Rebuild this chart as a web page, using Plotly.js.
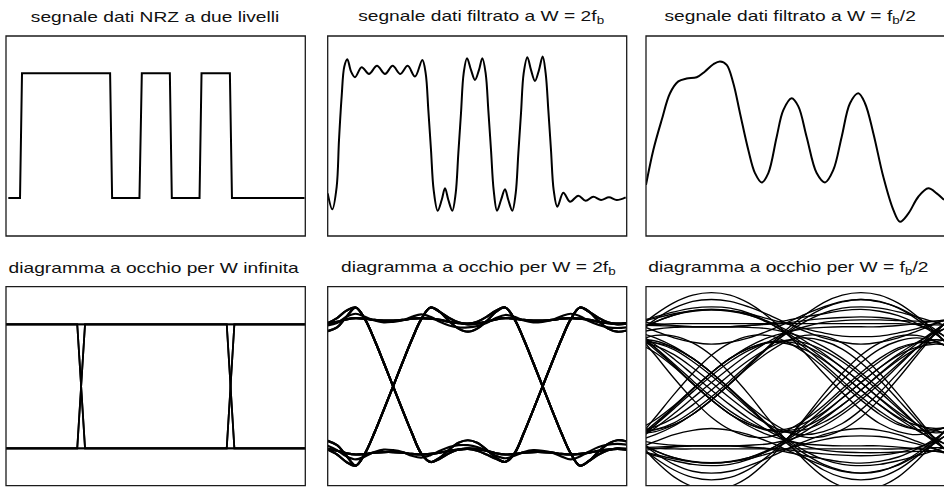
<!DOCTYPE html>
<html>
<head>
<meta charset="utf-8">
<script src="https://cdn.plot.ly/plotly-3.0.1.min.js"></script>
<style>
  html, body { margin: 0; padding: 0; background: #fff; }
  #chart { width: 944px; height: 488px; }
</style>
</head>
<body>
<div id="chart"></div>
<script>
// ---------------- data (time in bit periods, amplitude in NRZ levels) ----------------

// two-level NRZ data signal
const nrzTime  = [0.077, 0.468, 0.535, 3.478, 3.545, 4.459, 4.538, 5.474, 5.54, 6.466, 6.533, 7.48, 7.55, 9.975];
const nrzLevel = [-1, -1, 1, 1, -1, -1, 1, 1, -1, -1, 1, 1, -1, -1];

// data signal filtered at W = 2 fb
const wideTime  = [0.00, 0.155, 0.30, 0.378, 0.467, 0.556, 0.657, 0.779, 0.913, 1.136, 1.381, 1.649, 1.916, 2.173, 2.429, 2.675, 2.920, 3.165, 3.277, 3.366, 3.455, 3.544, 3.678, 3.812, 3.923, 4.035, 4.168, 4.280, 4.369, 4.458, 4.547, 4.659, 4.793, 4.926, 5.060, 5.172, 5.283, 5.372, 5.462, 5.551, 5.662, 5.796, 5.930, 6.041, 6.175, 6.287, 6.376, 6.465, 6.554, 6.677, 6.799, 6.933, 7.067, 7.190, 7.290, 7.379, 7.468, 7.558, 7.680, 7.881, 8.104, 8.382, 8.628, 8.884, 9.141, 9.408, 9.665, 9.966];
const wideLevel = [-0.925, -1.18, -0.82, -0.07, 0.63, 1.11, 1.226, 1.03, 0.937, 1.097, 0.99, 1.119, 0.99, 1.119, 0.99, 1.119, 0.947, 1.215, 1.00, 0.41, -0.23, -0.872, -1.203, -1.032, -0.845, -1.032, -1.203, -0.925, -0.283, 0.359, 1.00, 1.242, 1.054, 0.894, 1.054, 1.242, 1.00, 0.41, -0.23, -0.872, -1.203, -1.032, -0.861, -1.032, -1.203, -0.925, -0.283, 0.359, 1.00, 1.258, 1.054, 0.878, 1.054, 1.268, 1.00, 0.41, -0.23, -0.872, -1.139, -0.915, -1.059, -0.963, -1.043, -0.979, -1.032, -0.989, -1.032, -0.989];

// data signal filtered at W = fb/2
const narrowTime  = [0, 0.245, 0.524, 0.803, 1.081, 1.36, 1.695, 1.973, 2.252, 2.475, 2.698, 2.921, 3.144, 3.422, 3.645, 3.869, 4.091, 4.37, 4.593, 4.872, 5.095, 5.373, 5.708, 5.987, 6.265, 6.544, 6.823, 7.101, 7.324, 7.603, 7.937, 8.272, 8.495, 8.773, 9.108, 9.443, 9.721, 9.967];
const narrowLevel = [-0.79, -0.23, 0.25, 0.68, 0.87, 0.915, 0.937, 1.03, 1.145, 1.19, 1.135, 0.84, 0.36, -0.23, -0.60, -0.75, -0.60, -0.02, 0.41, 0.60, 0.47, -0.02, -0.60, -0.75, -0.55, -0.02, 0.52, 0.68, 0.52, 0.04, -0.66, -1.19, -1.38, -1.25, -0.98, -0.845, -0.925, -1.03];

// eye diagram, unlimited bandwidth: three-bit patterns over a two-bit window
const eyeInfTime = [0, 0.476, 0.528, 1.475, 1.526, 2];
const eyeInfPatterns = [
  [1, 1, 1], [1, 1, -1], [1, -1, 1], [1, -1, -1],
  [-1, 1, 1], [-1, 1, -1], [-1, -1, 1], [-1, -1, -1]
];

// eye diagram, W = 2 fb
const eyeWideTime = [0, 0.0625, 0.125, 0.1875, 0.25, 0.3125, 0.375, 0.4375, 0.5, 0.5625, 0.625, 0.6875, 0.75, 0.8125, 0.875, 0.9375, 1, 1.0625, 1.125, 1.1875, 1.25, 1.3125, 1.375, 1.4375, 1.5, 1.5625, 1.625, 1.6875, 1.75, 1.8125, 1.875, 1.9375, 2];
const eyeWideTraces = [
  [1.01,1.04,1.08,1.10,1.09,1.07,1.06,1.06,1.07,1.09,1.10,1.09,1.07,1.04,1.02,1.01,1.02,1.04,1.08,1.10,1.09,1.07,1.06,1.06,1.07,1.09,1.10,1.09,1.07,1.04,1.02,1.01,1.02],
  [-1.01,-1.04,-1.08,-1.10,-1.09,-1.07,-1.06,-1.06,-1.07,-1.09,-1.10,-1.09,-1.07,-1.04,-1.02,-1.01,-1.02,-1.04,-1.08,-1.10,-1.09,-1.07,-1.06,-1.06,-1.07,-1.09,-1.10,-1.09,-1.07,-1.04,-1.02,-1.01,-1.02],
  [1.02,1.10,1.22,1.27,1.08,0.75,0.38,0.00,-0.38,-0.75,-1.08,-1.22,-1.17,-1.08,-1.02,-1.00,-1.01,-1.04,-1.08,-1.10,-1.09,-1.07,-1.06,-1.06,-1.07,-1.09,-1.10,-1.09,-1.07,-1.04,-1.02,-1.01,-1.02],
  [-1.02,-1.10,-1.22,-1.28,-1.08,-0.75,-0.38,0.00,0.38,0.75,1.08,1.27,1.20,1.10,1.03,1.00,1.01,1.04,1.08,1.10,1.09,1.07,1.06,1.06,1.07,1.09,1.10,1.09,1.07,1.04,1.02,1.01,1.02],
  [1.01,1.04,1.08,1.10,1.09,1.07,1.06,1.06,1.07,1.09,1.10,1.09,1.07,1.04,1.02,1.01,1.04,1.12,1.22,1.27,1.08,0.75,0.38,0.00,-0.38,-0.75,-1.08,-1.28,-1.20,-1.10,-1.03,-1.00,-1.01],
  [-1.01,-1.04,-1.08,-1.10,-1.09,-1.07,-1.06,-1.06,-1.07,-1.09,-1.10,-1.09,-1.07,-1.04,-1.02,-1.01,-1.04,-1.10,-1.17,-1.22,-1.08,-0.75,-0.38,0.00,0.38,0.75,1.08,1.27,1.20,1.10,1.03,1.00,1.01],
  [-1.02,-1.10,-1.22,-1.28,-1.08,-0.75,-0.38,0.00,0.38,0.75,1.08,1.27,1.20,1.05,0.93,0.88,0.93,1.05,1.20,1.27,1.08,0.75,0.38,0.00,-0.38,-0.75,-1.08,-1.28,-1.20,-1.10,-1.03,-1.00,-1.01],
  [1.02,1.10,1.22,1.27,1.08,0.75,0.38,0.00,-0.38,-0.75,-1.08,-1.22,-1.15,-1.02,-0.91,-0.87,-0.91,-1.02,-1.15,-1.22,-1.08,-0.75,-0.38,0.00,0.38,0.75,1.08,1.27,1.20,1.10,1.03,1.00,1.01],
  [0.89,0.95,1.12,1.27,1.08,0.75,0.38,0.00,-0.38,-0.75,-1.08,-1.22,-1.17,-1.08,-1.02,-1.00,-1.01,-1.04,-1.08,-1.10,-1.09,-1.07,-1.06,-1.06,-1.07,-1.09,-1.10,-1.09,-1.07,-1.04,-1.02,-1.01,-1.02],
  [-0.88,-0.95,-1.12,-1.28,-1.08,-0.75,-0.38,0.00,0.38,0.75,1.08,1.27,1.20,1.10,1.03,1.00,1.01,1.04,1.08,1.10,1.09,1.07,1.06,1.06,1.07,1.09,1.10,1.09,1.07,1.04,1.02,1.01,1.02],
  [0.89,0.95,1.12,1.27,1.08,0.75,0.38,0.00,-0.38,-0.75,-1.08,-1.22,-1.15,-1.02,-0.91,-0.87,-0.91,-1.02,-1.15,-1.22,-1.08,-0.75,-0.38,0.00,0.38,0.75,1.08,1.27,1.20,1.05,0.93,0.88,0.90],
  [-0.88,-0.95,-1.12,-1.28,-1.08,-0.75,-0.38,0.00,0.38,0.75,1.08,1.27,1.20,1.05,0.93,0.88,0.93,1.05,1.20,1.27,1.08,0.75,0.38,0.00,-0.38,-0.75,-1.08,-1.28,-1.20,-1.05,-0.93,-0.87,-0.89],
  [-1.01,-1.04,-1.08,-1.10,-1.09,-1.07,-1.06,-1.06,-1.07,-1.09,-1.10,-1.09,-1.07,-1.04,-1.02,-1.01,-1.04,-1.10,-1.17,-1.22,-1.08,-0.75,-0.38,0.00,0.38,0.75,1.08,1.27,1.20,1.05,0.93,0.88,0.90],
  [1.01,1.04,1.08,1.10,1.09,1.07,1.06,1.06,1.07,1.09,1.10,1.09,1.07,1.04,1.02,1.01,1.04,1.12,1.22,1.27,1.08,0.75,0.38,0.00,-0.38,-0.75,-1.08,-1.28,-1.20,-1.05,-0.93,-0.87,-0.89],
  [0.98,1.02,1.12,1.17,1.12,1.06,1.03,1.04,1.06,1.12,1.16,1.12,1.04,0.98,0.95,0.95,0.97,1.02,1.10,1.15,1.12,1.06,1.03,1.04,1.07,1.13,1.17,1.13,1.05,0.99,0.95,0.94,0.95],
  [-0.96,-1.03,-1.13,-1.18,-1.13,-1.06,-1.02,-1.03,-1.06,-1.12,-1.15,-1.11,-1.04,-0.98,-0.95,-0.95,-0.98,-1.04,-1.12,-1.16,-1.12,-1.06,-1.03,-1.04,-1.07,-1.13,-1.18,-1.13,-1.05,-0.98,-0.94,-0.93,-0.94]
];

// eye diagram, W = fb/2
const eyeNarrowTime = [-0.0625, 0.0625, 0.1875, 0.3125, 0.4375, 0.5625, 0.6875, 0.8125, 0.9375, 1.0625, 1.1875, 1.3125, 1.4375, 1.5625, 1.6875, 1.8125, 1.9375, 2.0625];
const eyeNarrowTraces = [
  [0.99,1.00,1.01,1.01,1.01,1.01,1.01,1.01,1.01,1.01,1.01,1.01,1.01,1.01,1.01,1.00,0.99,0.99],
  [0.86,0.92,0.95,0.96,0.96,0.96,0.98,1.01,1.06,1.12,1.17,1.22,1.24,1.21,1.14,1.01,0.84,0.61],
  [0.99,0.98,0.97,0.96,0.96,0.96,0.98,1.00,1.02,1.06,1.09,1.11,1.12,1.11,1.07,0.99,0.88,0.72],
  [0.88,1.04,1.15,1.22,1.24,1.22,1.17,1.09,1.01,0.93,0.86,0.81,0.80,0.81,0.86,0.93,1.02,1.11],
  [1.03,1.12,1.20,1.26,1.28,1.26,1.18,1.04,0.85,0.62,0.36,0.09,-0.17,-0.40,-0.59,-0.70,-0.75,-0.72],
  [0.90,1.04,1.15,1.21,1.23,1.21,1.15,1.05,0.91,0.73,0.53,0.30,0.06,-0.20,-0.45,-0.69,-0.91,-1.10],
  [1.02,1.10,1.17,1.22,1.24,1.22,1.15,1.03,0.87,0.67,0.44,0.19,-0.06,-0.30,-0.52,-0.71,-0.87,-0.98],
  [0.92,1.16,1.35,1.47,1.51,1.47,1.34,1.13,0.86,0.54,0.21,-0.10,-0.38,-0.60,-0.73,-0.78,-0.72,-0.59],
  [0.84,0.62,0.36,0.09,-0.17,-0.40,-0.58,-0.70,-0.74,-0.70,-0.58,-0.40,-0.17,0.09,0.36,0.62,0.84,1.02],
  [0.71,0.54,0.31,0.04,-0.22,-0.45,-0.61,-0.70,-0.69,-0.59,-0.42,-0.19,0.06,0.30,0.50,0.63,0.68,0.65],
  [0.84,0.59,0.33,0.05,-0.22,-0.45,-0.61,-0.71,-0.72,-0.65,-0.50,-0.30,-0.06,0.19,0.42,0.61,0.72,0.76],
  [0.73,0.65,0.51,0.30,0.06,-0.19,-0.42,-0.61,-0.74,-0.78,-0.73,-0.60,-0.38,-0.10,0.22,0.55,0.87,1.15],
  [-0.75,-0.70,-0.59,-0.40,-0.17,0.09,0.36,0.62,0.85,1.04,1.18,1.26,1.28,1.26,1.20,1.12,1.03,0.94],
  [-0.88,-0.78,-0.64,-0.45,-0.22,0.04,0.33,0.63,0.91,1.15,1.35,1.47,1.51,1.47,1.34,1.13,0.87,0.56],
  [-0.76,-0.73,-0.62,-0.45,-0.22,0.05,0.33,0.61,0.87,1.09,1.26,1.36,1.40,1.36,1.27,1.11,0.91,0.68],
  [-0.86,-0.67,-0.44,-0.19,0.06,0.30,0.52,0.71,0.86,0.96,1.03,1.06,1.07,1.07,1.06,1.05,1.05,1.07],
  [1.01,0.89,0.78,0.71,0.68,0.71,0.78,0.89,1.02,1.16,1.28,1.37,1.40,1.37,1.26,1.08,0.85,0.57],
  [0.85,1.08,1.26,1.37,1.40,1.37,1.28,1.16,1.02,0.89,0.78,0.71,0.68,0.71,0.78,0.89,1.01,1.14],
  [1.05,1.01,0.98,0.96,0.96,0.96,0.95,0.93,0.87,0.78,0.64,0.45,0.22,-0.04,-0.33,-0.62,-0.90,-1.13],
  [0.86,0.50,0.13,-0.21,-0.50,-0.70,-0.81,-0.82,-0.72,-0.54,-0.31,-0.04,0.22,0.45,0.62,0.70,0.70,0.61],
  [0.70,0.70,0.62,0.45,0.22,-0.04,-0.31,-0.54,-0.72,-0.82,-0.81,-0.70,-0.50,-0.21,0.13,0.50,0.86,1.18],
  [-0.90,-0.62,-0.33,-0.04,0.22,0.45,0.64,0.78,0.87,0.93,0.95,0.96,0.96,0.96,0.98,1.01,1.05,1.10],
  [-0.99,-1.00,-1.01,-1.01,-1.01,-1.01,-1.01,-1.01,-1.01,-1.01,-1.01,-1.01,-1.01,-1.01,-1.01,-1.00,-0.99,-0.99],
  [-0.86,-0.92,-0.95,-0.96,-0.96,-0.96,-0.98,-1.01,-1.06,-1.12,-1.17,-1.22,-1.24,-1.21,-1.14,-1.01,-0.84,-0.61],
  [-0.99,-0.98,-0.97,-0.96,-0.96,-0.96,-0.98,-1.00,-1.02,-1.06,-1.09,-1.11,-1.12,-1.11,-1.07,-0.99,-0.88,-0.72],
  [-0.88,-1.04,-1.15,-1.22,-1.24,-1.22,-1.17,-1.09,-1.01,-0.93,-0.86,-0.81,-0.80,-0.81,-0.86,-0.93,-1.02,-1.11],
  [-1.03,-1.12,-1.20,-1.26,-1.28,-1.26,-1.18,-1.04,-0.85,-0.62,-0.36,-0.09,0.17,0.40,0.59,0.70,0.75,0.72],
  [-0.90,-1.04,-1.15,-1.21,-1.23,-1.21,-1.15,-1.05,-0.91,-0.73,-0.53,-0.30,-0.06,0.20,0.45,0.69,0.91,1.10],
  [-1.02,-1.10,-1.17,-1.22,-1.24,-1.22,-1.15,-1.03,-0.87,-0.67,-0.44,-0.19,0.06,0.30,0.52,0.71,0.87,0.98],
  [-0.92,-1.16,-1.35,-1.47,-1.51,-1.47,-1.34,-1.13,-0.86,-0.54,-0.21,0.10,0.38,0.60,0.73,0.78,0.72,0.59],
  [-0.84,-0.62,-0.36,-0.09,0.17,0.40,0.58,0.70,0.74,0.70,0.58,0.40,0.17,-0.09,-0.36,-0.62,-0.84,-1.02],
  [-0.71,-0.54,-0.31,-0.04,0.22,0.45,0.61,0.70,0.69,0.59,0.42,0.19,-0.06,-0.30,-0.50,-0.63,-0.68,-0.65],
  [-0.84,-0.59,-0.33,-0.05,0.22,0.45,0.61,0.71,0.72,0.65,0.50,0.30,0.06,-0.19,-0.42,-0.61,-0.72,-0.76],
  [-0.73,-0.65,-0.51,-0.30,-0.06,0.19,0.42,0.61,0.74,0.78,0.73,0.60,0.38,0.10,-0.22,-0.55,-0.87,-1.15],
  [0.75,0.70,0.59,0.40,0.17,-0.09,-0.36,-0.62,-0.85,-1.04,-1.18,-1.26,-1.28,-1.26,-1.20,-1.12,-1.03,-0.94],
  [0.88,0.78,0.64,0.45,0.22,-0.04,-0.33,-0.63,-0.91,-1.15,-1.35,-1.47,-1.51,-1.47,-1.34,-1.13,-0.87,-0.56],
  [0.76,0.73,0.62,0.45,0.22,-0.05,-0.33,-0.61,-0.87,-1.09,-1.26,-1.36,-1.40,-1.36,-1.27,-1.11,-0.91,-0.68],
  [0.86,0.67,0.44,0.19,-0.06,-0.30,-0.52,-0.71,-0.86,-0.96,-1.03,-1.06,-1.07,-1.07,-1.06,-1.05,-1.05,-1.07],
  [-1.01,-0.89,-0.78,-0.71,-0.68,-0.71,-0.78,-0.89,-1.02,-1.16,-1.28,-1.37,-1.40,-1.37,-1.26,-1.08,-0.85,-0.57],
  [-0.85,-1.08,-1.26,-1.37,-1.40,-1.37,-1.28,-1.16,-1.02,-0.89,-0.78,-0.71,-0.68,-0.71,-0.78,-0.89,-1.01,-1.14],
  [-1.05,-1.01,-0.98,-0.96,-0.96,-0.96,-0.95,-0.93,-0.87,-0.78,-0.64,-0.45,-0.22,0.04,0.33,0.62,0.90,1.13],
  [-0.88,-1.20,-1.46,-1.62,-1.68,-1.62,-1.46,-1.20,-0.87,-0.51,-0.13,0.21,0.50,0.70,0.81,0.82,0.73,0.56],
  [-0.86,-0.50,-0.13,0.21,0.50,0.70,0.81,0.82,0.72,0.54,0.31,0.04,-0.22,-0.45,-0.62,-0.70,-0.70,-0.61],
  [-0.70,-0.70,-0.62,-0.45,-0.22,0.04,0.31,0.54,0.72,0.82,0.81,0.70,0.50,0.21,-0.13,-0.50,-0.86,-1.18],
  [0.73,0.82,0.81,0.70,0.50,0.21,-0.13,-0.51,-0.87,-1.20,-1.46,-1.62,-1.68,-1.62,-1.46,-1.20,-0.88,-0.53],
  [0.90,0.62,0.33,0.04,-0.22,-0.45,-0.64,-0.78,-0.87,-0.93,-0.95,-0.96,-0.96,-0.96,-0.98,-1.01,-1.05,-1.10]
];

// panel titles
const panelTitles = [
  'segnale dati NRZ a due livelli',
  'segnale dati filtrato a W = 2f<sub>b</sub>',
  'segnale dati filtrato a W = f<sub>b</sub>/2',
  'diagramma a occhio per W infinita',
  'diagramma a occhio per W = 2f<sub>b</sub>',
  'diagramma a occhio per W = f<sub>b</sub>/2'
];

// ---------------- page geometry (pixels) ----------------
const PAGE_W = 944, PAGE_H = 488;
const TITLE_SIZE = 15, SUB_SIZE = 10.5, SUB_DROP = 3, TITLE_STRETCH = 1.28;
const frames = [
  { left: 6,     right: 305.3, top: 36,    bottom: 236,   xr: [0, 10],    yr: [-1.609, 1.598] },
  { left: 327.7, right: 626.7, top: 36,    bottom: 236,   xr: [0, 10],    yr: [-1.609, 1.598] },
  { left: 646,   right: 944,   top: 36,    bottom: 236,   xr: [0, 9.967], yr: [-1.609, 1.598], open: true },
  { left: 6,     right: 305.3, top: 286.7, bottom: 485.7, xr: [0, 2],     yr: [-1.603, 1.606] },
  { left: 327.7, right: 626.7, top: 286.7, bottom: 485.7, xr: [0, 2],     yr: [-1.603, 1.606] },
  { left: 646,   right: 944,   top: 286.7, bottom: 485.7, xr: [0, 1.993], yr: [-1.603, 1.606], open: true }
];
const titlePos = [
  { x: 154.5, y: 16.5 }, { x: 480.8, y: 16.5 }, { x: 789.7, y: 16.5 },
  { x: 153,   y: 267.5 }, { x: 478.8, y: 267.5 }, { x: 788.3, y: 267.5 }
];
const px = v => v / PAGE_W;
const py = v => 1 - v / PAGE_H;

// ---------------- traces ----------------
const traces = [];
function addCurve(x, y, panel, width, smooth) {
  const line = { color: '#000', width: width };
  if (smooth) { line.shape = 'spline'; line.smoothing = 1; }
  traces.push({
    type: 'scatter', mode: 'lines', x: x, y: y,
    xaxis: panel === 1 ? 'x' : 'x' + panel,
    yaxis: panel === 1 ? 'y' : 'y' + panel,
    line: line, hoverinfo: 'skip', showlegend: false
  });
}

addCurve(nrzTime, nrzLevel, 1, 2, false);
addCurve(wideTime, wideLevel, 2, 2, true);
addCurve(narrowTime, narrowLevel, 3, 2, true);
eyeInfPatterns.forEach(b => addCurve(eyeInfTime, [b[0], b[0], b[1], b[1], b[2], b[2]], 4, 1.8, false));
eyeWideTraces.forEach(y => addCurve(eyeWideTime, y, 5, 2.2, true));
eyeNarrowTraces.forEach(y => addCurve(eyeNarrowTime, y, 6, 1.35, true));

// ---------------- layout ----------------
const layout = {
  width: PAGE_W, height: PAGE_H,
  margin: { l: 0, r: 0, t: 0, b: 0 },
  paper_bgcolor: '#fff', plot_bgcolor: '#fff',
  showlegend: false,
  shapes: [], annotations: []
};

frames.forEach((f, i) => {
  const n = i + 1;
  const xName = n === 1 ? 'xaxis' : 'xaxis' + n;
  const yName = n === 1 ? 'yaxis' : 'yaxis' + n;
  layout[xName] = {
    domain: [px(f.left), Math.min(1, px(f.right))], range: f.xr,
    visible: false, fixedrange: true, anchor: n === 1 ? 'y' : 'y' + n
  };
  layout[yName] = {
    domain: [py(f.bottom), py(f.top)], range: f.yr,
    visible: false, fixedrange: true, anchor: n === 1 ? 'x' : 'x' + n
  };
  layout.shapes.push({
    type: 'rect', xref: 'paper', yref: 'paper', layer: 'above',
    x0: px(f.left), x1: f.open ? px(PAGE_W + 2) : px(f.right),
    y0: py(f.bottom), y1: py(f.top),
    line: { color: '#1b1b1b', width: 1.3 }, fillcolor: 'rgba(0,0,0,0)'
  });
  layout.annotations.push({
    text: panelTitles[i], xref: 'paper', yref: 'paper',
    x: px(titlePos[i].x), y: py(titlePos[i].y),
    xanchor: 'center', yanchor: 'middle', showarrow: false,
    font: { family: 'Liberation Sans, Arial, Helvetica, sans-serif', size: TITLE_SIZE, color: '#111' }
  });
});

Plotly.newPlot('chart', traces, layout, { staticPlot: true, displayModeBar: false }).then(gd => {
  gd.querySelectorAll('text.annotation-text').forEach(t => {
    const box = t.getBBox();
    const cx = box.x + box.width / 2;
    const y0 = parseFloat(t.getAttribute('y')) || 0;

    // split the title into plain runs and subscript runs, each set as its own text element
    const runs = [];
    Array.from(t.childNodes).forEach(node => {
      const s = node.textContent.replace(/\u200b/g, '');
      if (s) runs.push({ s: s, sub: node.nodeType === 1 });
    });
    const parts = runs.map((r, k) => {
      const el = k === 0 ? t : t.cloneNode(false);
      el.textContent = r.s;
      el.setAttribute('text-anchor', 'start');
      if (r.sub) {
        el.style.fontSize = SUB_SIZE + 'px';
        el.setAttribute('y', y0 + SUB_DROP);
      }
      if (k > 0) t.parentNode.appendChild(el);
      return el;
    });
    const widths = parts.map(el => el.getComputedTextLength());
    let x = cx - widths.reduce((a, b) => a + b, 0) / 2;
    parts.forEach((el, k) => {
      el.setAttribute('x', x);
      x += widths[k];
      // the title lettering is set wide: stretch horizontally about the title centre
      el.setAttribute('transform', `translate(${cx} 0) scale(${TITLE_STRETCH} 1) translate(${-cx} 0)`);
    });
  });
});
</script>
</body>
</html>
